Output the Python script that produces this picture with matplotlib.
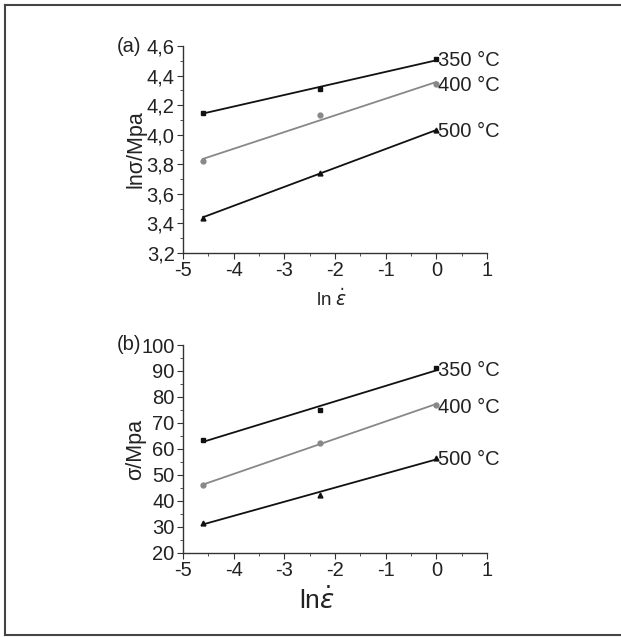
import numpy as np
import matplotlib
matplotlib.use("Agg")
import matplotlib.pyplot as plt
from matplotlib.ticker import MultipleLocator, FuncFormatter
from matplotlib.lines import Line2D

plt.rcParams['font.family'] = ['Liberation Sans', 'DejaVu Sans']
plt.rcParams['mathtext.fontset'] = 'dejavusans'
plt.rcParams['axes.unicode_minus'] = False

# strain rate: ln(0.01), ln(0.1), ln(1)
ln_rate = [-4.605, -2.303, 0.0]
temps = ['350 °C', '400 °C', '500 °C']

# (a) ln(sigma)
ln_sigma_350 = [4.15, 4.31, 4.51]
ln_sigma_400 = [3.82, 4.13, 4.34]
ln_sigma_500 = [3.44, 3.74, 4.03]

# (b) sigma, MPa
sigma_350 = [63.5, 75.0, 91.0]
sigma_400 = [46.0, 62.5, 77.0]
sigma_500 = [31.5, 42.5, 56.5]

colors = ['#111111', '#888888', '#111111']
markers = ['s', 'o', '^']

fig = plt.figure(figsize=(6.21, 6.37), dpi=100)

# frame around the figure (left, top, bottom only)
W, H = 621, 637
fx0, fy_top, fy_bot = 4.5 / W, 1 - 5 / H, 1 - 635 / H
fig.add_artist(Line2D([fx0, fx0], [fy_bot, fy_top], color='#444444', lw=1.5, transform=fig.transFigure))
fig.add_artist(Line2D([fx0, 1], [fy_top, fy_top], color='#444444', lw=1.5, transform=fig.transFigure))
fig.add_artist(Line2D([fx0, 1], [fy_bot, fy_bot], color='#444444', lw=1.5, transform=fig.transFigure))

left, right = 183 / W, 487 / W
ax_a = fig.add_axes([left, 1 - 253 / H, right - left, (253 - 46) / H])
ax_b = fig.add_axes([left, 1 - 553 / H, right - left, (553 - 345) / H])

comma = FuncFormatter(lambda v, p: f'{v:.1f}'.replace('.', ','))
FS = 14.5


def draw(ax, series, ylim, ymaj, ymin, label_y):
    x = np.array(ln_rate)
    for ys, c, m, t, ly in zip(series, colors, markers, temps, label_y):
        ax.plot(x, ys, linestyle='none', marker=m, ms=3.5, color=c, clip_on=False)
        k, b = np.polyfit(x, ys, 1)
        ax.plot(x, k * x + b, color=c, lw=1.3)
        ax.text(0.03, ly, t, fontsize=FS, va='center', ha='left', color='#222222')
    ax.set_xlim(-5, 1)
    ax.set_ylim(*ylim)
    ax.xaxis.set_major_locator(MultipleLocator(1))
    ax.xaxis.set_minor_locator(MultipleLocator(0.5))
    ax.yaxis.set_major_locator(MultipleLocator(ymaj))
    ax.yaxis.set_minor_locator(MultipleLocator(ymin))
    for s in ['top', 'right']:
        ax.spines[s].set_visible(False)
    for s in ['left', 'bottom']:
        ax.spines[s].set_color('#333333')
        ax.spines[s].set_linewidth(1.0)
    ax.tick_params(which='major', direction='out', length=4, labelsize=FS, colors='#333333',
                   labelcolor='#222222', pad=2)
    ax.tick_params(which='minor', direction='out', length=2, colors='#333333')
    ax.patch.set_alpha(0)


draw(ax_a, [ln_sigma_350, ln_sigma_400, ln_sigma_500], (3.2, 4.6), 0.2, 0.1, [4.50, 4.33, 4.02])
ax_a.yaxis.set_major_formatter(comma)
ax_a.set_ylabel('lnσ/Mpa', fontsize=15.5, color='#222222')
ax_a.yaxis.set_label_coords(-0.12, 0.5)
ax_a.set_xlabel(r'ln $\dot{\varepsilon}$', fontsize=13.5, color='#222222')
ax_a.xaxis.set_label_coords(0.49, -0.17)
fig.text(117 / W, 1 - 46 / H, '(a)', fontsize=FS, va='center', ha='left', color='#222222')

draw(ax_b, [sigma_350, sigma_400, sigma_500], (20, 100), 10, 5, [90, 76, 56])
ax_b.set_ylabel('σ/Mpa', fontsize=15.5, color='#222222')
ax_b.yaxis.set_label_coords(-0.12, 0.5)
ax_b.set_xlabel(r'ln$\dot{\varepsilon}$', fontsize=19, color='#222222')
ax_b.xaxis.set_label_coords(0.44, -0.16)
fig.text(117 / W, 1 - 345 / H, '(b)', fontsize=FS, va='center', ha='left', color='#222222')

fig.savefig('out.png', dpi=100, facecolor='white')
